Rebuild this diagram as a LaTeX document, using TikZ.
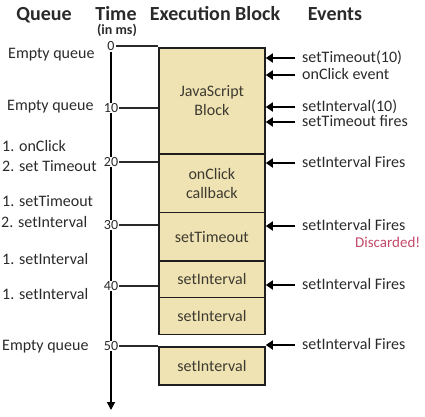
\documentclass[tikz,border=0pt]{standalone}
\usepackage{fontspec}
\setmainfont{Carlito}
\usetikzlibrary{arrows.meta,backgrounds}
\definecolor{blockfill}{HTML}{EFE3B3}
\definecolor{blockline}{HTML}{1E1E1E}
\definecolor{blocktext}{HTML}{3D3A30}
\definecolor{lbl}{HTML}{2A2A2A}
\definecolor{discard}{HTML}{C44A6A}
\begin{document}
\begin{tikzpicture}[x=1pt,y=-1pt,
  header/.style={font=\fontsize{20}{22}\selectfont\bfseries, text=lbl, inner sep=0, anchor=base},
  blockbox/.style={draw=blockline, line width=1.8pt, fill=blockfill, text=blocktext,
    font=\fontsize{16}{19}\selectfont, align=center, inner sep=0, minimum width=106pt, anchor=north west},
  qlabel/.style={font=\fontsize{16}{19}\selectfont, text=lbl, inner sep=0, anchor=west, text height=11.5pt, text depth=3.5pt},
  evlabel/.style={qlabel},
  ticklbl/.style={font=\fontsize{14}{16}\selectfont, text=lbl, fill=white, inner sep=0.8pt},
  tickline/.style={draw=lbl, line width=1.3pt},
  evarrow/.style={draw=black, line width=2.6pt, -{Triangle[length=7pt,width=9pt]}},
]
\useasboundingbox (0,0) rectangle (425,416);

% headers
\node[header] (hq) at (44,20) {Queue};
\node[header] (ht) at (116,20) {Time};
\node[header, font=\fontsize{14}{16}\selectfont\bfseries] (hms) at (117,34) {(in ms)};
\node[header] (hx) at (215,20) {Execution Block};
\node[header] (he) at (335,20) {Events};

% blocks
\node[blockbox, minimum height=106pt] (js) at (158,47) {JavaScript\\Block};
\node[blockbox, minimum height=58.5pt] (cb) at (158,153) {onClick\\callback};
\node[blockbox, minimum height=48.5pt] (st) at (158,211.5) {setTimeout};
\node[blockbox, minimum height=36.5pt] (si1) at (158,260) {setInterval};
\node[blockbox, minimum height=37pt] (si2) at (158,296.5) {setInterval};
\node[blockbox, minimum height=38pt] (si3) at (158,346) {setInterval};

% time ticks
\node[ticklbl] (t0) at (111,46) {0};
\node[ticklbl] (t10) at (111,108) {10};
\node[ticklbl] (t20) at (111,162) {20};
\node[ticklbl] (t30) at (111,225) {30};
\node[ticklbl] (t40) at (111,286) {40};
\node[ticklbl] (t50) at (111,346) {50};
\coordinate (tend) at (111,410);

\begin{pgfonlayer}{background}
\draw[line width=1.6pt, draw=black, -{Triangle[length=8pt,width=8pt]}] (t0.south) -- (tend);
\end{pgfonlayer}

\draw[tickline] (t0.east) -- (t0 -| js.west);
\draw[tickline] (t10.east) -- (t10 -| js.west);
\draw[tickline] (t20.east) -- (t20 -| js.west);
\draw[tickline] (t30.east) -- (t30 -| js.west);
\draw[tickline] (t40.east) -- (t40 -| js.west);
\draw[tickline] (t50.east) -- (t50 -| js.west);

% queue labels
\node[qlabel] (q1) at (8,54) {Empty queue};
\node[qlabel] (q2) at (7,106) {Empty queue};
\node[qlabel] (q3) at (2,147) {1. onClick};
\node[qlabel] (q4) at (2,167) {2. set Timeout};
\node[qlabel] (q5) at (2,202) {1. setTimeout};
\node[qlabel] (q6) at (1,223) {2. setInterval};
\node[qlabel] (q7) at (2,260) {1. setInterval};
\node[qlabel] (q8) at (2,295) {1. setInterval};
\node[qlabel] (q9) at (2,346) {Empty queue};

% events
\node[evlabel] (e1) at (302,58) {setTimeout(10)};
\node[evlabel] (e2) at (302,75) {onClick event};
\node[evlabel] (e3) at (302,107) {setInterval(10)};
\node[evlabel] (e4) at (302,122) {setTimeout fires};
\node[evlabel] (e5) at (302,163) {setInterval Fires};
\node[evlabel] (e6) at (302,226) {setInterval Fires};
\node[evlabel] (e7) at (302,285) {setInterval Fires};
\node[evlabel] (e8) at (302,345) {setInterval Fires};
\node[qlabel, font=\fontsize{15}{17}\selectfont, text=discard] (dc) at (355,243) {Discarded!};

\foreach \e in {e1,e2,e3,e4,e5,e6,e7,e8}
  \draw[evarrow] ([xshift=-7pt]\e.west) -- (\e.west -| js.east);
\end{tikzpicture}
\end{document}
